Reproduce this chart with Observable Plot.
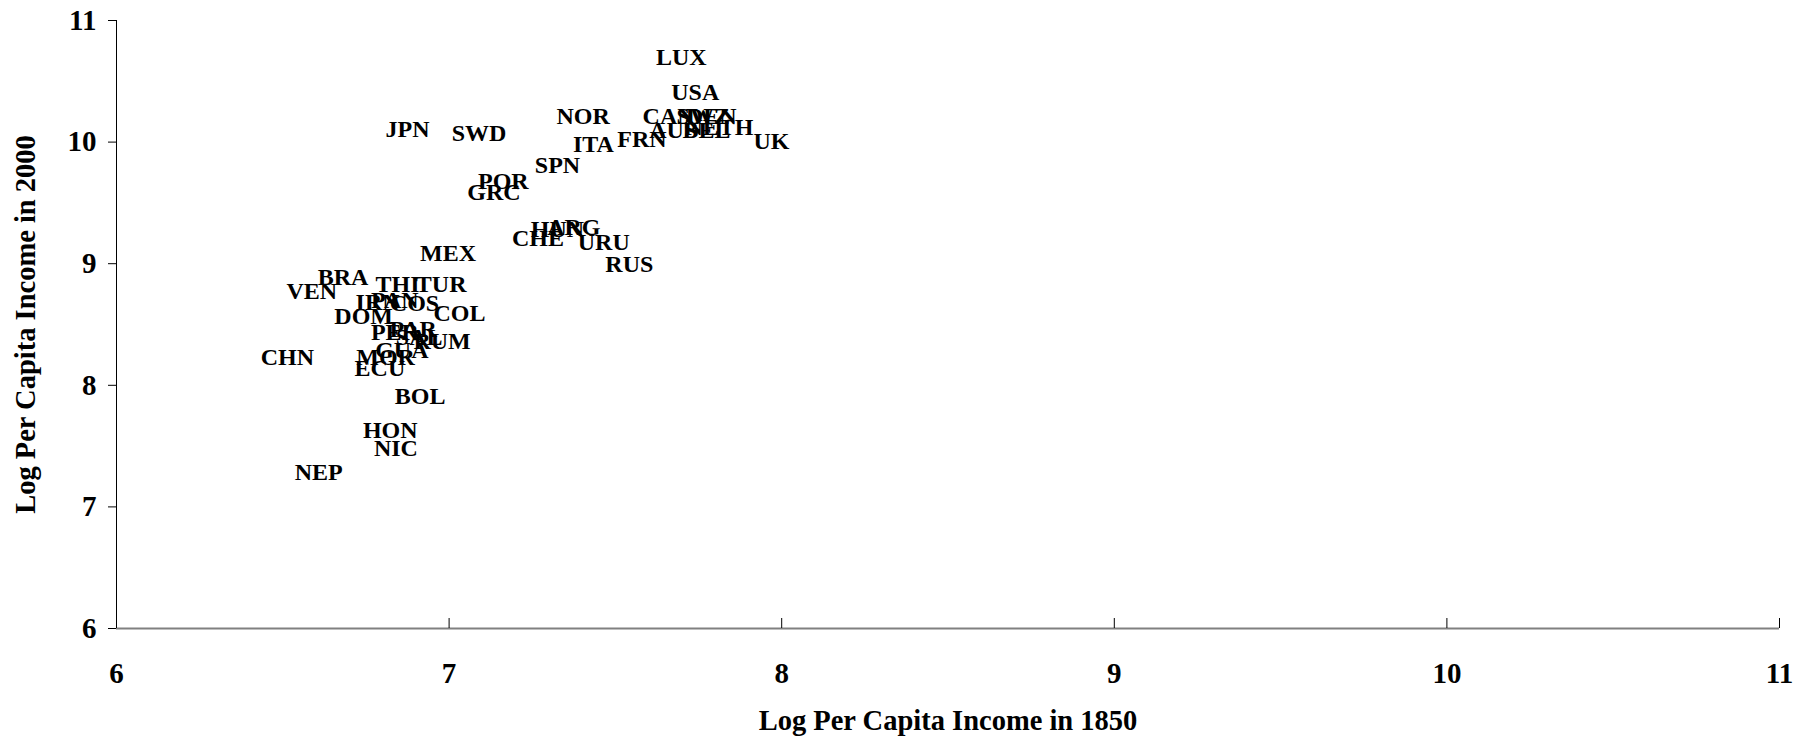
<!DOCTYPE html>
<html>
<head>
<meta charset="utf-8">
<script src="https://cdn.jsdelivr.net/npm/d3@7"></script>
<script src="https://cdn.jsdelivr.net/npm/@observablehq/plot@0.6"></script>
<style>
  html, body { margin: 0; padding: 0; background: #fff; }
</style>
</head>
<body>
<div id="chart"></div>
<script>
const countries = ["LUX","USA","CAN","SWZ","DEN","AUS","BEL","NETH","FRN","UK","ITA","NOR","SWD","JPN","SPN","POR","GRC","CHE","HUN","ARG","URU","RUS","MEX","BRA","VEN","THI","TUR","IRN","PAN","COS","COL","DOM","PER","PAR","SAL","RUM","GUA","MOR","ECU","CHN","BOL","HON","NIC","NEP"];
const income1850 = [7.698,7.740,7.660,7.764,7.788,7.674,7.774,7.813,7.580,7.969,7.434,7.403,7.090,6.875,7.326,7.163,7.135,7.267,7.326,7.375,7.465,7.542,6.997,6.681,6.587,6.845,6.976,6.785,6.837,6.896,7.031,6.743,6.837,6.892,6.910,6.979,6.858,6.809,6.792,6.514,6.913,6.823,6.840,6.608];
const income2000 = [10.696,10.412,10.213,10.213,10.213,10.099,10.099,10.118,10.023,10.004,9.985,10.213,10.070,10.108,9.805,9.681,9.586,9.207,9.283,9.302,9.178,8.998,9.083,8.884,8.770,8.827,8.827,8.685,8.700,8.675,8.590,8.571,8.438,8.457,8.391,8.362,8.287,8.230,8.139,8.230,7.907,7.632,7.480,7.281];
const xTicks = [6,7,8,9,10,11];
const yTicks = [6,7,8,9,10,11];
const xTitle = "Log Per Capita Income in 1850";
const yTitle = "Log Per Capita Income in 2000";

const data = countries.map((c, i) => ({country: c, x: income1850[i], y: income2000[i]}));

const chart = Plot.plot({
  width: 1811,
  height: 740,
  marginLeft: 116,
  marginRight: 32,
  marginTop: 20,
  marginBottom: 112,
  style: {fontFamily: "'Liberation Serif', 'Times New Roman', serif", color: "#000", background: "#fff"},
  x: {domain: [6, 11]},
  y: {domain: [6, 11]},
  marks: [
    Plot.ruleY([6], {stroke: "#808080", strokeWidth: 2}),
    Plot.ruleX([6], {stroke: "#000", strokeWidth: 1}),
    Plot.axisX({ticks: xTicks, tickSize: 10, dy: -10, tickFormat: () => "", label: null, stroke: "#000"}),
    Plot.axisX({ticks: xTicks, tickSize: 0, tickPadding: 34, tickFormat: d3.format("d"), fontSize: 29, fontWeight: "bold", label: null}),
    Plot.axisY({ticks: yTicks, tickSize: 8, tickPadding: 12, tickFormat: d3.format("d"), fontSize: 29, fontWeight: "bold", label: null, stroke: "#000"}),
    Plot.text(data, {x: "x", y: "y", text: "country", fontSize: 24, fontWeight: "bold", fill: "#000"}),
    Plot.text([xTitle], {frameAnchor: "bottom", dy: 101, fontSize: 28.5, fontWeight: "bold", fill: "#000"}),
    Plot.text([yTitle], {frameAnchor: "left", textAnchor: "middle", rotate: -90, dx: -91, fontSize: 28.5, fontWeight: "bold", fill: "#000"})
  ]
});
document.getElementById("chart").appendChild(chart);
</script>
</body>
</html>
